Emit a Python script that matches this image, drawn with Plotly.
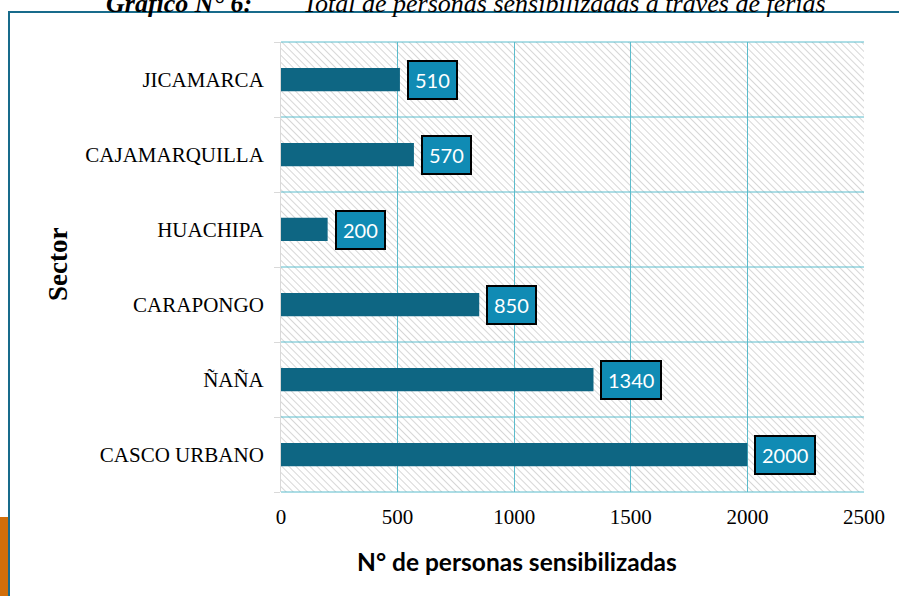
"""Horizontal bar chart: personas sensibilizadas a través de ferias, por sector."""

import base64

import plotly.graph_objects as go

# Data (bottom to top, as drawn)
SECTORS = ["CASCO URBANO", "ÑAÑA", "CARAPONGO", "HUACHIPA",
           "CAJAMARQUILLA", "JICAMARCA"]
PEOPLE = [2000, 1340, 850, 200, 570, 510]
X_TICKS = [0, 500, 1000, 1500, 2000, 2500]

TITLE_LEAD = "Gráfico N° 6:"
TITLE_TEXT = "Total de personas sensibilizadas a través de ferias"
X_TITLE = "N° de personas sensibilizadas"
Y_TITLE = "Sector"

W, H = 899, 596
L, R, T, B = 281, 35, 42, 104
PLOT_W = W - L - R
PLOT_H = H - T - B

BAR_COLOR = "#0e6683"
LABEL_FILL = "#108bb4"
GRID_COLOR = "#5bbccc"
FRAME_COLOR = "#186b8b"
SERIF = "Liberation Serif, Times New Roman, serif"
SANS = "Lato, Carlito, Calibri, sans-serif"

# Excel-like "light downward diagonal" fill for the plot area
HATCH_SVG = (
    f"<svg xmlns='http://www.w3.org/2000/svg' width='{PLOT_W}' "
    f"height='{PLOT_H}'><defs><pattern id='h' width='5' height='5' "
    "patternUnits='userSpaceOnUse' patternTransform='rotate(-45)'>"
    "<rect width='5' height='5' fill='white'/>"
    "<line x1='0' y1='0' x2='0' y2='5' stroke='#cdcdcd' "
    "stroke-width='1.6'/></pattern></defs>"
    "<rect width='100%' height='100%' fill='url(#h)'/></svg>"
)
HATCH_URI = ("data:image/svg+xml;base64,"
             + base64.b64encode(HATCH_SVG.encode()).decode())


def px_x(px):
    """Pixel column -> paper x."""
    return (px - L) / PLOT_W


def px_y(py):
    """Pixel row -> paper y."""
    return (H - B - py) / PLOT_H


fig = go.Figure()

fig.add_trace(go.Bar(
    y=SECTORS, x=PEOPLE, orientation="h", width=0.31,
    marker=dict(color=BAR_COLOR, line=dict(width=0)),
    hovertemplate="%{y}: %{x}<extra></extra>", showlegend=False,
))

# boxed value labels to the right of every bar
for sector, value in zip(SECTORS, PEOPLE):
    fig.add_annotation(
        x=value, y=sector, xref="x", yref="y", text=str(value),
        xanchor="left", yanchor="middle", xshift=7, showarrow=False,
        font=dict(family=SANS, size=20, color="white"),
        bgcolor=LABEL_FILL, bordercolor="black", borderwidth=2, borderpad=6,
    )

# teal rules between the sector rows (and along the top/bottom edges)
for k in range(len(SECTORS) + 1):
    fig.add_shape(type="line", xref="paper", yref="paper", layer="below",
                  x0=0, x1=1, y0=k / len(SECTORS), y1=k / len(SECTORS),
                  line=dict(color=GRID_COLOR, width=1))

fig.update_layout(
    width=W, height=H,
    margin=dict(l=L, r=R, t=T, b=B),
    paper_bgcolor="white", plot_bgcolor="rgba(0,0,0,0)",
    xaxis=dict(
        range=[0, X_TICKS[-1]], tickvals=X_TICKS, showgrid=True,
        gridcolor=GRID_COLOR, gridwidth=1, zeroline=False, showline=False,
        tickfont=dict(family=SERIF, size=21, color="black"),
        ticklabelstandoff=10,
    ),
    yaxis=dict(
        type="category", categoryorder="array", categoryarray=SECTORS,
        range=[-0.5, len(SECTORS) - 0.5], tickson="boundaries",
        showgrid=False,
        showline=True, linecolor="#d9d9d9", linewidth=1,
        ticks="outside", ticklen=6, tickcolor="#d9d9d9",
        tickfont=dict(family=SERIF, size=21, color="black"),
        ticklabelstandoff=12,
    ),
    font=dict(family=SERIF, color="black"),
    images=[dict(source=HATCH_URI, xref="paper", yref="paper",
                 x=0, y=1, sizex=1, sizey=1, sizing="stretch",
                 xanchor="left", yanchor="top", layer="below")],
)

# axis titles (the x title sits left of the plot centre in the original)
fig.add_annotation(
    text=f"<b>{X_TITLE}</b>", xref="paper", yref="paper",
    x=px_x(517), y=px_y(561), xanchor="center", yanchor="middle",
    showarrow=False, font=dict(family=SANS, size=24.5, color="black"),
)
fig.add_annotation(
    text=f"<b>{Y_TITLE}</b>", xref="paper", yref="paper",
    x=px_x(58), y=px_y(265), xanchor="center", yanchor="middle",
    textangle=-90, showarrow=False,
    font=dict(family=SERIF, size=27, color="black"),
)

# caption cut off by the top edge of the page
fig.add_annotation(
    text=f"<b><i>{TITLE_LEAD}</i></b>", xref="paper", yref="paper",
    x=px_x(104), y=px_y(20), xanchor="left", yanchor="bottom",
    showarrow=False, font=dict(family=SERIF, size=26, color="black"),
)
fig.add_annotation(
    text=f"<i>{TITLE_TEXT}</i>", xref="paper", yref="paper",
    x=px_x(301), y=px_y(20), xanchor="left", yanchor="bottom",
    showarrow=False, font=dict(family=SERIF, size=26, color="black"),
)

# page frame: teal top and left rules, orange tab at the bottom left
fig.add_shape(type="line", xref="paper", yref="paper",
              x0=px_x(8), x1=px_x(W + 2), y0=px_y(12), y1=px_y(12),
              line=dict(color=FRAME_COLOR, width=2))
fig.add_shape(type="line", xref="paper", yref="paper",
              x0=px_x(9), x1=px_x(9), y0=px_y(11), y1=px_y(H + 2),
              line=dict(color=FRAME_COLOR, width=2))
fig.add_shape(type="rect", xref="paper", yref="paper",
              x0=px_x(-2), x1=px_x(8), y0=px_y(517), y1=px_y(H + 2),
              fillcolor="#d26e0a", line=dict(width=0))

# the page's default 8px body margin would push the 899x596 figure out
# of the window, so drop it
fig.write_html("out.html", config={"displayModeBar": False},
               post_script="document.body.style.margin='0';")
